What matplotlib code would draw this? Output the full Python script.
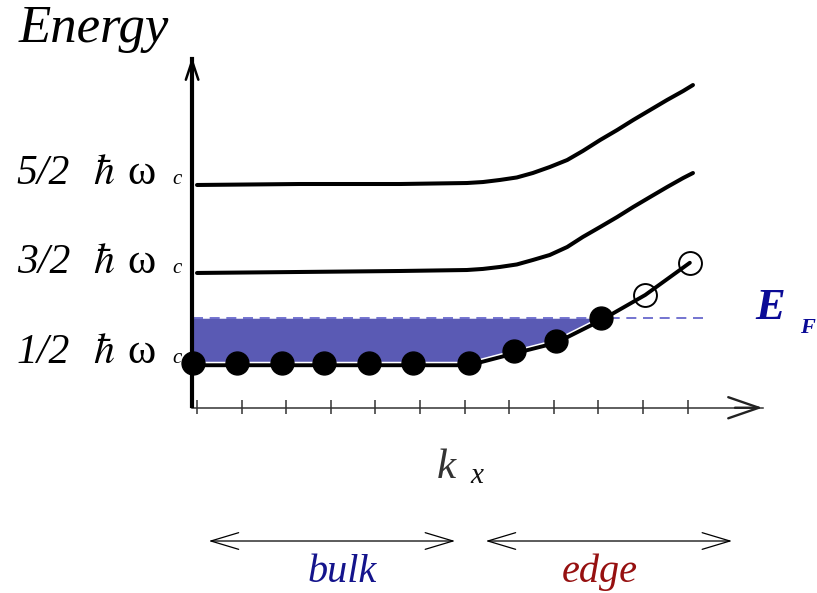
import matplotlib
matplotlib.use("Agg")
import matplotlib.pyplot as plt
from matplotlib.patches import FancyArrowPatch
from matplotlib import patheffects

plt.rcParams['mathtext.fontset'] = 'stix'
SERIF = ['Liberation Serif', 'DejaVu Serif']

# k en pas de graduation, E en unites de hbar*omega_c
niveau_k = [0.0, 2.31, 4.55, 6.05, 6.41, 6.79, 7.17, 7.53, 7.91, 8.30, 8.65, 9.04,
            9.42, 9.78, 10.16, 10.54, 10.90, 11.12]
niveau_32 = [1.506, 1.517, 1.528, 1.539, 1.551, 1.573, 1.601, 1.651, 1.707, 1.796, 1.908,
             2.02, 2.131, 2.243, 2.355, 2.466, 2.567, 2.623]
niveau_52 = [2.489, 2.5, 2.5, 2.511, 2.522, 2.545, 2.573, 2.623, 2.69, 2.768, 2.869,
             2.992, 3.103, 3.215, 3.327, 3.439, 3.539, 3.606]

# etats occupes (points pleins) et vides (cercles)
k_pleins = [-0.1, 0.9, 1.9, 2.85, 3.85, 4.85, 6.1, 7.1, 8.05, 9.05]
E_pleins = [0.5, 0.5, 0.5, 0.5, 0.5, 0.5, 0.5, 0.63, 0.75, 1.0]
k_vides = [10.05, 11.05]
E_vides = [1.26, 1.62]

E_F = 1.0
graduations = [0, 1, 2, 3, 4, 5, 6, 7, 8, 9, 10, 11]
labels_niveaux = ["1/2", "3/2", "5/2"]
E_niveaux = [0.5, 1.5, 2.5]

fig = plt.figure(figsize=(8.17, 5.93), dpi=100)
ax = fig.add_axes([0, 0, 1, 1])
ax.set_xlim(-4.417, 13.901)
ax.set_ylim(-2.070, 4.556)
ax.axis('off')

# remplissage sous le niveau de Fermi
ax.fill_between(k_pleins, E_pleins, E_F, color='#5a5ab4', lw=0, zorder=1)
ax.plot([-0.1, 11.39], [E_F, E_F], color='#5c5cc8', lw=1.2, dashes=(6, 4), zorder=2)
ax.plot(k_pleins, E_pleins, color='#1a1a8c', lw=1.0, dashes=(6, 4), zorder=2)

# niveaux de Landau
for niveau in [niveau_32, niveau_52]:
    ax.plot(niveau_k, niveau, color='black', lw=2.9, solid_capstyle='round',
            solid_joinstyle='round', zorder=3)

# premier niveau avec les etats
ligne = ax.plot(k_pleins + k_vides, [e - 0.025 for e in E_pleins] + E_vides,
                color='black', lw=2.8, solid_capstyle='round', solid_joinstyle='round', zorder=4)[0]
ligne.set_path_effects([patheffects.Stroke(linewidth=5, foreground='white'),
                        patheffects.Normal()])
ax.plot(k_pleins, E_pleins, 'o', color='black', ms=16.5, zorder=5)
ax.plot(k_vides, E_vides, 'o', mfc='none', mec='black', mew=1.4, ms=16.5, zorder=5)

# axes dessines a la main
ax.plot([-0.11, -0.11], [0.02, 3.9], color='black', lw=3, zorder=3)
ax.add_patch(FancyArrowPatch((-0.11, 3.5), (-0.11, 3.95), arrowstyle='->,head_length=0.9,head_width=0.3',
                             mutation_scale=15, color='black', lw=1.8, zorder=3))
ax.plot([-0.11, 12.7], [0.0, 0.0], color='#333333', lw=1.1, zorder=2)
ax.add_patch(FancyArrowPatch((12.0, 0.0), (12.74, 0.0), arrowstyle='->,head_length=1.1,head_width=0.38',
                             mutation_scale=20, color='#222222', lw=1.7, zorder=2))
ax.vlines(graduations, -0.07, 0.087, color='#333333', lw=1.1)

# textes
ax.text(-4.01, 4.087, "Energy", family=SERIF, style='italic', fontsize=38, ha='left', va='baseline')
for lab, e in zip(labels_niveaux, E_niveaux):
    ax.text(-4.04, e, lab, family=SERIF, style='italic', fontsize=30, ha='left', va='baseline')
    ax.text(-2.33, e, r'$\hbar$', fontsize=30, ha='left', va='baseline')
    ax.text(-1.55, e, "ω", family=SERIF, fontsize=31, ha='left', va='baseline')
    ax.text(-0.56, e, "c", family=SERIF, style='italic', fontsize=15, ha='left', va='baseline')

ax.text(12.51, 0.99, "E", family=SERIF, style='italic', weight='bold', fontsize=32,
        color='#0a0a96', ha='left', va='baseline')
ax.text(13.52, 0.835, "F", family=SERIF, style='italic', weight='bold', fontsize=16,
        color='#0a0a96', ha='left', va='baseline')

ax.text(5.38, -0.785, "k", family=SERIF, style='italic', fontsize=31, color='#333333',
        ha='left', va='baseline')
ax.text(6.12, -0.84, "x", family=SERIF, style='italic', fontsize=21, color='#111111',
        ha='left', va='baseline')

for k0, k1 in [(0.2, 5.85), (6.41, 12.06)]:
    ax.add_patch(FancyArrowPatch((k0, -1.489), (k1, -1.489), arrowstyle='<->,head_length=1.0,head_width=0.3',
                                 mutation_scale=20, color='black', lw=0.9))
ax.text(3.25, -1.947, "bulk", family=SERIF, style='italic', fontsize=29, color='#14148c',
        ha='center', va='baseline')
ax.text(9.04, -1.947, "edge", family=SERIF, style='italic', fontsize=29, color='#961010',
        ha='center', va='baseline')

fig.savefig("out.png", dpi=100)
